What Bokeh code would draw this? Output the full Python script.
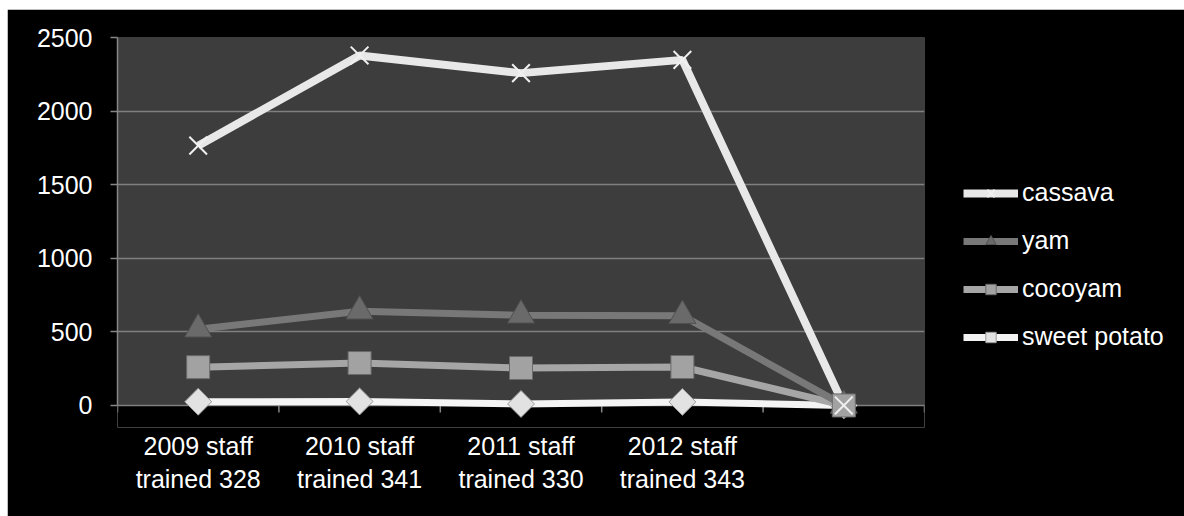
import numpy as np
from bokeh.plotting import figure
from bokeh.models import FixedTicker, Legend, LegendItem, Range1d, ColumnDataSource
from bokeh.embed import file_html
from bokeh.resources import INLINE

categories = ["2009 staff\ntrained 328", "2010 staff\ntrained 341", "2011 staff\ntrained 330", "2012 staff\ntrained 343", ""]
cassava = [1765, 2378, 2258, 2348, 0]
yam = [518, 640, 613, 610, 0]
cocoyam = [260, 288, 254, 261, 0]
sweet_potato = [25, 27, 10, 24, 0]
y_ticks = [0, 500, 1000, 1500, 2000, 2500]

FONT = "Liberation Sans"
AX = "#868686"
Y_MIN = -150
FRAME_H = 390
xc = [float(i) + 0.5 for i in range(len(categories))]
bounds = [float(i) for i in range(len(categories) + 1)]
tick_len = 7 * (y_ticks[-1] - Y_MIN) / FRAME_H  # 7 px expressed in data units

src = ColumnDataSource(dict(x=xc, cassava=cassava, yam=yam, cocoyam=cocoyam, sp=sweet_potato))

p = figure(frame_width=807, frame_height=FRAME_H, output_backend="svg", toolbar_location=None,
           x_range=Range1d(0, len(categories)), y_range=Range1d(Y_MIN, y_ticks[-1]),
           min_border_left=110, min_border_right=260, min_border_top=28, min_border_bottom=89)
p.margin = (9, 0, 0, 7)
p.border_fill_color = "black"
p.background_fill_color = "black"
p.outline_line_color = None

# plot area fill from 0 to the top of the range (frame extends below zero so end markers are not cut)
p.quad(left=0, right=len(categories), bottom=0, top=y_ticks[-1],
       fill_color="#3d3d3d", line_color=None, level="underlay")

p.xgrid.visible = False
p.ygrid.ticker = FixedTicker(ticks=y_ticks)
p.ygrid.grid_line_color = "#808080"
p.ygrid.grid_line_width = 1.5

ya = p.yaxis[0]
ya.ticker = FixedTicker(ticks=y_ticks)
ya.bounds = (0, y_ticks[-1])
ya.axis_line_color = AX
ya.axis_line_width = 1.5
ya.major_tick_line_color = AX
ya.major_tick_line_width = 1.5
ya.major_tick_in = 0
ya.major_tick_out = 7
ya.minor_tick_line_color = None
ya.major_label_text_color = "white"
ya.major_label_text_font = FONT
ya.major_label_text_font_size = "25px"
ya.major_label_standoff = 18

# category labels (below the frame)
xa = p.xaxis[0]
xa.ticker = FixedTicker(ticks=xc)
xa.major_label_overrides = {x: c for x, c in zip(xc, categories)}
xa.axis_line_color = None
xa.major_tick_line_color = None
xa.minor_tick_line_color = None
xa.major_tick_in = 0
xa.major_tick_out = 0
xa.major_label_text_color = "white"
xa.major_label_text_font = FONT
xa.major_label_text_font_size = "25px"
xa.major_label_standoff = 4

# category boundary tick marks hanging below the zero line
p.segment(x0=bounds, y0=[0] * len(bounds), x1=bounds, y1=[-tick_len] * len(bounds),
          line_color=AX, line_width=1.5)

lw = 7
l_sp = p.line("x", "sp", source=src, line_color="#f4f4f4", line_width=lw)
l_co = p.line("x", "cocoyam", source=src, line_color="#a6a6a6", line_width=lw)
l_ya = p.line("x", "yam", source=src, line_color="#787878", line_width=lw)
l_ca = p.line("x", "cassava", source=src, line_color="#e8e8e8", line_width=8)

m_sp = p.scatter("x", "sp", source=src, marker="square", angle=np.pi / 4, size=19,
                 fill_color="#e2e2e2", line_color="#9a9a9a", line_width=1)
m_ya = p.scatter("x", "yam", source=src, marker="triangle", size=27,
                 fill_color="#6a6a6a", line_color="#505050", line_width=1)
m_co = p.scatter("x", "cocoyam", source=src, marker="square", size=23,
                 fill_color="#a2a2a2", line_color="#6a6a6a", line_width=1)
m_ca = p.scatter("x", "cassava", source=src, marker="x", size=25,
                 line_color="#f0f0f0", line_width=2)

legend = Legend(items=[
    LegendItem(label="cassava", renderers=[l_ca, m_ca]),
    LegendItem(label="yam", renderers=[l_ya, m_ya]),
    LegendItem(label="cocoyam", renderers=[l_co, m_co]),
    LegendItem(label="sweet potato", renderers=[l_sp, m_sp]),
], location=(39, 76))
legend.background_fill_color = "black"
legend.background_fill_alpha = 1
legend.border_line_color = None
legend.margin = 0
legend.padding = 0
legend.glyph_width = 55
legend.glyph_height = 26
legend.label_height = 26
legend.spacing = 19
legend.label_standoff = 4
legend.label_text_color = "white"
legend.label_text_font = FONT
legend.label_text_font_size = "25px"
p.add_layout(legend, "right")

open("out.html", "w").write(file_html(p, INLINE))
